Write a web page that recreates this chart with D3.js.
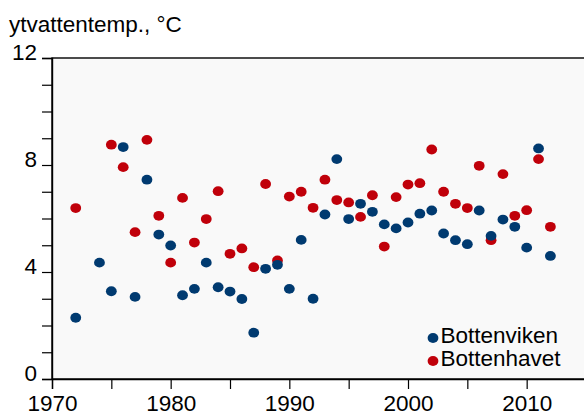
<!DOCTYPE html>
<html>
<head>
<meta charset="utf-8">
<script src="https://cdn.jsdelivr.net/npm/d3@7"></script>
<style>
  body { margin: 0; background: #fff; }
  svg text { font-family: "Liberation Sans", Arial, sans-serif; fill: #000; }
</style>
</head>
<body>
<script>
// Data
const vikenYears = [1972, 1974, 1975, 1976, 1977, 1978, 1979, 1980, 1981, 1982,
  1983, 1984, 1985, 1986, 1987, 1988, 1989, 1990, 1991, 1992,
  1993, 1994, 1995, 1996, 1997, 1998, 1999, 2000, 2001, 2002,
  2003, 2004, 2005, 2006, 2007, 2008, 2009, 2010, 2011, 2012];
const vikenTemp = [2.29, 4.35, 3.28, 8.67, 3.07, 7.45, 5.40, 4.99, 3.13, 3.37,
  4.35, 3.43, 3.27, 2.99, 1.73, 4.12, 4.27, 3.37, 5.20, 3.00,
  6.15, 8.22, 5.98, 6.55, 6.25, 5.78, 5.63, 5.85, 6.18, 6.30,
  5.44, 5.19, 5.04, 6.30, 5.35, 5.96, 5.69, 4.91, 8.62, 4.60];

const havetYears = [1972, 1975, 1976, 1977, 1978, 1979, 1980, 1981, 1982,
  1983, 1984, 1985, 1986, 1987, 1988, 1989, 1990, 1991, 1992,
  1993, 1994, 1995, 1996, 1997, 1998, 1999, 2000, 2001, 2002,
  2003, 2004, 2005, 2006, 2007, 2008, 2009, 2010, 2011, 2012];
const havetTemp = [6.39, 8.76, 7.92, 5.49, 8.94, 6.10, 4.35, 6.77, 5.10,
  5.98, 7.02, 4.68, 4.88, 4.18, 7.29, 4.43, 6.82, 7.00, 6.40,
  7.45, 6.69, 6.60, 6.06, 6.87, 4.95, 6.80, 7.27, 7.32, 8.58,
  7.00, 6.55, 6.39, 7.97, 5.19, 7.66, 6.10, 6.31, 8.22, 5.69];

const xTicks = d3.range(1970, 2016, 5);
const yTicks = d3.range(0, 13, 1);
const xLabels = [1970, 1980, 1990, 2000, 2010];
const yLabels = [0, 4, 8, 12];

const seriesNames = ["Bottenviken", "Bottenhavet"];
const seriesColors = ["#003a70", "#c0000a"];

// Parameters
const w = 584;
const h = 412;
const padLeft = 52;
const padRight = 586;
const padTop = 58;
const padBottom = 379;
const fontSize = 22.5;

const svg = d3.select("body").append("svg")
  .attr("width", w)
  .attr("height", h);

const xScale = d3.scaleLinear().domain([1970, 2015]).range([padLeft, padRight]);
const yScale = d3.scaleLinear().domain([0, 12]).range([padBottom, padTop]);

// plot area
svg.append("rect")
  .attr("x", padLeft)
  .attr("y", padTop)
  .attr("width", padRight - padLeft)
  .attr("height", padBottom - padTop)
  .attr("fill", "#f9f9f9")
  .attr("stroke", "#000")
  .attr("stroke-width", 1.4);

// title
svg.append("text")
  .attr("x", 9)
  .attr("y", 32)
  .attr("font-size", fontSize)
  .text("ytvattentemp., \u00B0C");

// axes
const yAxis = d3.axisLeft(yScale)
  .tickValues(yTicks)
  .tickSize(10)
  .tickPadding(5)
  .tickFormat((d) => (yLabels.includes(d) ? d : ""));

const gy = svg.append("g")
  .attr("transform", "translate(" + padLeft + ",0)")
  .call(yAxis);
gy.selectAll("text").attr("font-size", fontSize).attr("dy", "0.05em");

const xAxis = d3.axisBottom(xScale)
  .tickValues(xTicks)
  .tickSize(10)
  .tickPadding(6)
  .tickFormat((d) => (xLabels.includes(d) ? d : ""));

const gx = svg.append("g")
  .attr("transform", "translate(0," + padBottom + ")")
  .call(xAxis);
gx.selectAll("text").attr("font-size", fontSize);

[gx, gy].forEach((g) => {
  g.select(".domain").attr("stroke", "#000").attr("stroke-width", 1.4);
  g.selectAll(".tick line").attr("stroke", "#000").attr("stroke-width", 1.2);
  g.selectAll("text").attr("font-family", "Liberation Sans, Arial, sans-serif");
});

// dots: Bottenhavet underneath, Bottenviken on top
const series = [
  { years: havetYears, temps: havetTemp, color: seriesColors[1] },
  { years: vikenYears, temps: vikenTemp, color: seriesColors[0] }
];

series.forEach((s) => {
  svg.append("g")
    .selectAll("ellipse")
    .data(s.years)
    .enter()
    .append("ellipse")
    .attr("cx", (d) => xScale(d))
    .attr("cy", (d, i) => yScale(s.temps[i]))
    .attr("rx", 5.4)
    .attr("ry", 4.9)
    .attr("fill", s.color);
});

// legend
const legend = svg.append("g").attr("transform", "translate(433,338)");
seriesNames.forEach((name, i) => {
  legend.append("ellipse")
    .attr("cx", 0)
    .attr("cy", i * 23)
    .attr("rx", 5.4)
    .attr("ry", 4.9)
    .attr("fill", seriesColors[i]);
  legend.append("text")
    .attr("x", 7.5)
    .attr("y", i * 23 + 4.5)
    .attr("font-size", fontSize)
    .text(name);
});
</script>
</body>
</html>
